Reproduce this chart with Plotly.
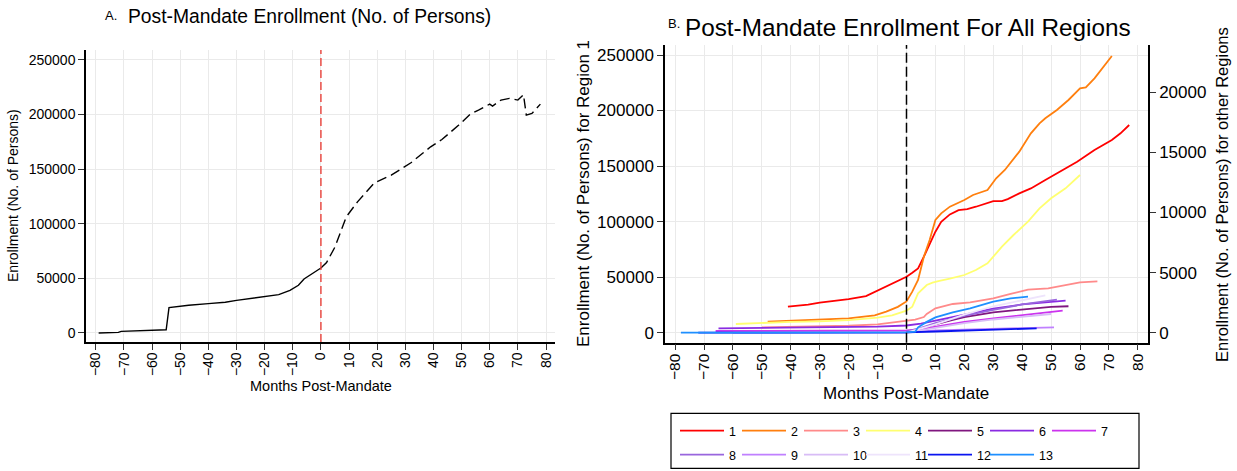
import plotly.graph_objects as go

W, H = 1237, 471

# ---------------- Panel A data (months, persons) ----------------
a_pre_months = [-79, -72, -71, -61, -55, -54, -47, -40, -34, -30, -21, -15, -11, -8, -6, -3, 0]
a_pre_values = [0, 600, 1500, 2400, 3000, 23200, 25400, 26900, 28100, 29900, 33300, 35100,
                39100, 43700, 49500, 54500, 59500]
a_post_months = [0, 2, 5, 9, 13, 16, 19, 25, 30, 32, 39, 43, 49, 53, 56, 60, 61, 64, 67, 70,
                 72, 73, 75, 78]
a_post_values = [59500, 64500, 78800, 106300, 120100, 129300, 137500, 144500, 152200, 155900,
                 170500, 177200, 190400, 200200, 204100, 209600, 207800, 213300, 214800,
                 213300, 218200, 199500, 201100, 209600]

# ---------------- Panel B data ----------------
region_names = ["1", "2", "3", "4", "5", "6", "7", "8", "9", "10", "11", "12", "13"]
region_colors = ["#FF0000", "#FF7F0E", "#FF8A8A", "#FFFF70", "#80167F", "#8A2BE2", "#CC33EE",
                 "#9966DD", "#C080FF", "#D8BCF6", "#EEE4FC", "#0A14F0", "#1E8FFF"]

r1_months = [-41, -34, -30, -20, -14, -10, -7, -4, 0, 2, 4, 6, 8, 10, 12, 15, 18, 21, 24, 27,
             30, 33, 35, 39, 43, 48, 55, 59, 65, 71, 74, 77]
r1_values = [23400, 25200, 27000, 30300, 33000, 37800, 42000, 45000, 50400, 54000, 57900,
             68400, 80400, 90900, 99900, 106500, 110400, 111300, 113400, 115800, 118500,
             118500, 120300, 125400, 129900, 137400, 148000, 153900, 164400, 173500, 179500,
             187000]

r2_months = [-48, -40, -30, -20, -11, -7, -3, 0, 2, 4, 6, 8, 10, 12, 15, 20, 23, 26, 28, 31,
             34, 39, 43, 46, 48, 52, 56, 60, 62, 65, 68, 71]
r2_values = [917, 1000, 1100, 1200, 1450, 1750, 2150, 2600, 3412, 4383, 6325, 7712, 9376,
             9931, 10486, 11040, 11456, 11679, 11873, 12844, 13537, 15063, 16589, 17421,
             17837, 18530, 19363, 20333, 20417, 21166, 22137, 23024]

r3_months = [-50, -40, -30, -20, -10, -5, 0, 3, 6, 7, 10, 16, 22, 30, 36, 42, 49, 55, 60, 66]
r3_values = [450, 480, 520, 580, 700, 850, 1000, 1080, 1300, 1556, 2028, 2389, 2528, 2861,
             3222, 3583, 3694, 4000, 4194, 4278]

r4_months = [-59, -48, -40, -30, -20, -10, -5, 0, 2, 4, 7, 9, 11, 15, 20, 24, 28, 31, 33, 37,
             42, 46, 50, 55, 60]
r4_values = [725, 850, 900, 950, 1050, 1250, 1450, 1830, 2164, 3273, 3967, 4161, 4300, 4494,
             4799, 5215, 5770, 6602, 7157, 8128, 9237, 10347, 11179, 12011, 13121]

r5_months = [0, 3, 6, 10, 15, 20, 30, 40, 50, 56]
r5_values = [50, 150, 400, 700, 1000, 1300, 1700, 1950, 2150, 2200]

r6_months = [-65, -40, -20, -10, 0, 5, 10, 20, 30, 40, 50, 55]
r6_values = [358, 400, 450, 500, 600, 750, 1000, 1500, 2000, 2350, 2600, 2667]

r7_months = [-66, -40, -20, 0, 5, 10, 20, 30, 40, 50, 54]
r7_values = [140, 150, 170, 200, 300, 500, 900, 1200, 1450, 1700, 1833]

r8_months = [0, 5, 10, 20, 30, 40, 52]
r8_values = [100, 400, 800, 1400, 1900, 2350, 2750]

r9_months = [-60, 0, 10, 20, 30, 40, 51]
r9_values = [0, 0, 200, 280, 330, 380, 444]

r10_months = [0, 10, 20, 30, 40, 50]
r10_values = [0, 400, 800, 1100, 1350, 1556]

r11_months = [0, 10, 20, 30, 40, 48]
r11_values = [0, 700, 1500, 2200, 2700, 3100]

r12_months = [-72, -30, 0, 10, 20, 30, 40, 45]
r12_values = [0, 0, 30, 100, 170, 250, 320, 361]

r13_months = [-78, -40, 0, 3, 4, 7, 10, 16, 22, 30, 36, 42]
r13_values = [0, 0, 20, 80, 444, 900, 1278, 1694, 2028, 2583, 2861, 3000]

a_yticks = [0, 50000, 100000, 150000, 200000, 250000]
b_right_ticks = [0, 5000, 10000, 15000, 20000]
x_ticks = list(range(-80, 81, 10))

region_months = [r1_months, r2_months, r3_months, r4_months, r5_months, r6_months, r7_months,
                 r8_months, r9_months, r10_months, r11_months, r12_months, r13_months]
region_values = [r1_values, r2_values, r3_values, r4_values, r5_values, r6_values, r7_values,
                 r8_values, r9_values, r10_values, r11_values, r12_values, r13_values]

FONT = "Liberation Sans, Arial, sans-serif"
GRID = "#EAEAEA"

fig = go.Figure()

fig.add_trace(go.Scatter(x=a_pre_months, y=a_pre_values, mode="lines",
                         line=dict(color="black", width=1.4), xaxis="x", yaxis="y",
                         showlegend=False))
fig.add_trace(go.Scatter(x=a_post_months, y=a_post_values, mode="lines",
                         line=dict(color="black", width=1.4, dash="10px,5px"), xaxis="x",
                         yaxis="y", showlegend=False))

for i, name in enumerate(region_names):
    last_in_row = i in (6, 12)
    fig.add_trace(go.Scatter(
        x=region_months[i], y=region_values[i], mode="lines", name=name,
        line=dict(color=region_colors[i], width=1.8),
        xaxis="x2", yaxis="y2" if i == 0 else "y3",
        legend="legend" if i < 7 else "legend2",
        legendwidth=20 if last_in_row else None))


def px(v):
    return v / W


def py(v):
    return 1 - v / H


axis_common = dict(showline=True, linecolor="black", linewidth=1.5, ticks="outside",
                   ticklen=6, tickcolor="#333", tickwidth=1.2, showgrid=True,
                   gridcolor=GRID, gridwidth=1, zeroline=False, automargin=False)

legend_common = dict(orientation="h", x=px(675), xanchor="left", yanchor="top",
                     font=dict(size=12.5, family=FONT), bgcolor="rgba(0,0,0,0)",
                     borderwidth=0, entrywidthmode="pixels", entrywidth=3, itemwidth=44,
                     tracegroupgap=0)


def note(text, x, y, size, angle=0, xanchor="center"):
    return dict(text=text, x=px(x), y=py(y), xref="paper", yref="paper",
                xanchor=xanchor, yanchor="middle", showarrow=False, textangle=angle,
                font=dict(size=size))


fig.update_layout(
    width=W, height=H, template="none",
    margin=dict(l=0, r=0, t=0, b=0),
    paper_bgcolor="white", plot_bgcolor="white",
    font=dict(family=FONT, color="black", size=14),
    xaxis=dict(domain=[px(86), px(555)], range=[-83.5, 83.2], tickvals=x_ticks, tickangle=-90,
               anchor="y", tickfont=dict(size=14), ticklabelstandoff=-3, **axis_common),
    yaxis=dict(domain=[py(342), py(50)], range=[-8250, 259150], tickvals=a_yticks,
               tickformat="d", anchor="x", tickfont=dict(size=14), **axis_common),
    xaxis2=dict(domain=[px(665), px(1148)], range=[-83.5, 83.5], tickvals=x_ticks,
                tickangle=-90, anchor="y2", tickfont=dict(size=15.5), ticklabelstandoff=-3,
                **axis_common),
    yaxis2=dict(domain=[py(342.7), py(45)], range=[-9000, 259000], tickvals=a_yticks,
                tickformat="d", anchor="x2", tickfont=dict(size=17), **axis_common),
    yaxis3=dict(overlaying="y2", side="right", anchor="x2", range=[-832, 23936],
                tickvals=b_right_ticks, tickformat="d", tickfont=dict(size=17),
                **{**axis_common, "showgrid": False}),
    legend=dict(y=py(416), **legend_common),
    legend2=dict(y=py(440), **legend_common),
    shapes=[
        dict(type="line", xref="x", yref="y domain", x0=0, x1=0, y0=0, y1=1,
             line=dict(color="#E8413A", width=1.4, dash="8px,4px")),
        dict(type="line", xref="x2", yref="y2 domain", x0=0, x1=0, y0=0, y1=1,
             line=dict(color="black", width=1.5, dash="10px,4px")),
        dict(type="rect", xref="paper", yref="paper", x0=px(671), x1=px(1139),
             y0=py(468.3), y1=py(413.3), line=dict(color="black", width=1.2),
             fillcolor="rgba(0,0,0,0)"),
    ],
    annotations=[
        note("A.", 103, 16, 13, xanchor="left"),
        note("Post-Mandate Enrollment (No. of Persons)", 126, 17, 19.3, xanchor="left"),
        note("Enrollment (No. of Persons)", 13, 196, 14, angle=-90),
        note("Months Post-Mandate", 321, 386, 14.5),
        note("B.", 666, 24, 13, xanchor="left"),
        note("Post-Mandate Enrollment For All Regions", 683, 28, 24.3, xanchor="left"),
        note("Enrollment (No. of Persons) for Region 1", 583, 194, 17, angle=-90),
        note("Enrollment (No. of Persons) for other Regions", 1222, 195, 16.5, angle=-90),
        note("Months Post-Mandate", 906, 393, 17),
    ],
)

fig.write_html("out.html", config={"displayModeBar": False},
               post_script="document.body.style.margin='0';"
                           "document.body.style.overflow='hidden';")
